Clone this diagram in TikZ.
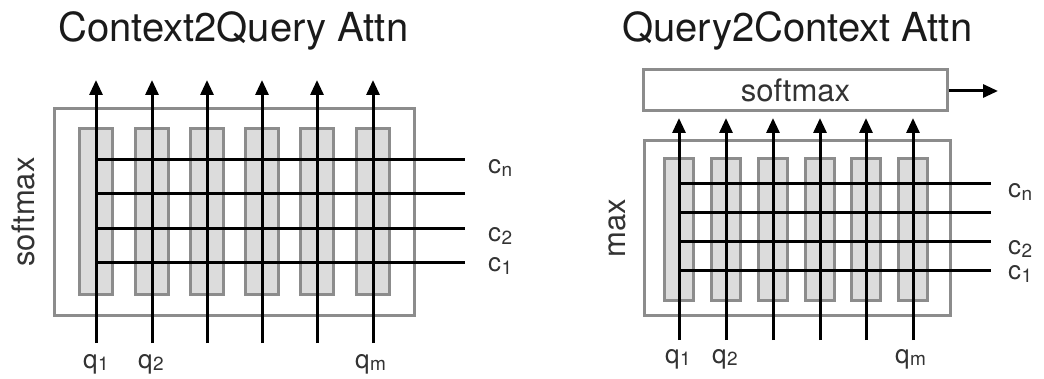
\documentclass[tikz,border=0pt]{standalone}
\usepackage{fontspec}
\setmainfont{TeX Gyre Heros}
\usetikzlibrary{arrows.meta}
\definecolor{boxgray}{HTML}{8C8C8C}
\definecolor{barfill}{HTML}{DCDCDC}
\definecolor{ink}{HTML}{333333}
\definecolor{head}{HTML}{1A1A1A}
% letter with a small lowered index, e.g. c_n, q_1
\newcommand{\sublbl}[2]{#1\kern0.5pt\raisebox{-2.5pt}{\fontsize{19}{19}\selectfont #2}}

\begin{document}
\begin{tikzpicture}[x=1pt,y=-1pt,
  frame/.style={draw=boxgray, line width=3.2pt, inner sep=0pt},
  bar/.style={draw=boxgray, fill=barfill, line width=3pt, inner sep=0pt},
  flow/.style={line width=3pt, -{Triangle[length=15pt,width=13pt]}},
  wire/.style={line width=3pt},
  title/.style={font=\fontsize{40}{40}\selectfont, text=head, anchor=base west, inner sep=0pt},
  lbl/.style={font=\fontsize{26}{26}\selectfont, text=ink, anchor=base west, inner sep=0pt},
  op/.style={font=\fontsize{31}{31}\selectfont, text=ink, inner sep=0pt},
]
\useasboundingbox (0,0) rectangle (1044,379);

% ---------------- Context2Query attention ----------------
\node[title] (ltitle) at (58,42) {Context2Query Attn};
\node[frame, minimum width=360pt, minimum height=207pt] (lframe) at (234.5,212) {};
\node[op, rotate=90] (lsoft) at (23,212) {softmax};
\foreach \i/\x in {1/96,2/152,3/207,4/262,5/317,6/373}
  \node[bar, minimum width=33pt, minimum height=166pt] (lbar\i) at (\x,212) {};
\foreach \i/\x in {1/96,2/152,3/207,4/262,5/317,6/373}{
  \coordinate (lq\i) at (\x,343);
  \coordinate (lo\i) at (\x,80);
  \draw[flow] (lq\i) -- (lo\i);
}
\foreach \i/\y in {1/263,2/229,3/194,4/160}{
  \coordinate (lcs\i) at (96,\y);
  \coordinate (lce\i) at (465,\y);
  \draw[wire] (lcs\i) -- (lce\i);
}
\node[lbl] (lcn) at (488,174) {\sublbl{c}{n}};
\node[lbl] (lc2) at (488,242) {\sublbl{c}{2}};
\node[lbl] (lc1) at (488,272) {\sublbl{c}{1}};
\node[lbl] (lql1) at (83,368) {\sublbl{q}{1}};
\node[lbl] (lql2) at (138,368) {\sublbl{q}{2}};
\node[lbl] (lqlm) at (355,368) {\sublbl{q}{m}};

% ---------------- Query2Context attention ----------------
\node[title] (rtitle) at (622,42) {Query2Context Attn};
\node[frame, op, minimum width=304pt, minimum height=41pt] (rsoft) at (795.5,90) {softmax};
\coordinate (rout) at (998,91);
\draw[flow] (rsoft.east |- rout) -- (rout);
\node[frame, minimum width=306pt, minimum height=175pt] (rframe) at (797.5,228) {};
\node[op, rotate=90] (rmax) at (617,228) {max};
\foreach \i/\x in {1/679,2/726,3/773,4/820,5/866,6/913}
  \node[bar, minimum width=29.5pt, minimum height=142.5pt] (rbar\i) at (\x,229.5) {};
\foreach \i/\x in {1/679,2/726,3/773,4/820,5/866,6/913}{
  \coordinate (rq\i) at (\x,340);
  \coordinate (ro\i) at (\x,118);
  \draw[flow] (rq\i) -- (ro\i);
}
\foreach \i/\y in {1/271,2/242,3/213,4/184}{
  \coordinate (rcs\i) at (679,\y);
  \coordinate (rce\i) at (991,\y);
  \draw[wire] (rcs\i) -- (rce\i);
}
\node[lbl] (rcn) at (1008,198) {\sublbl{c}{n}};
\node[lbl] (rc2) at (1008,255) {\sublbl{c}{2}};
\node[lbl] (rc1) at (1008,280) {\sublbl{c}{1}};
\node[lbl] (rql1) at (665,363) {\sublbl{q}{1}};
\node[lbl] (rql2) at (712,363) {\sublbl{q}{2}};
\node[lbl] (rqlm) at (895,363) {\sublbl{q}{m}};
\end{tikzpicture}
\end{document}
